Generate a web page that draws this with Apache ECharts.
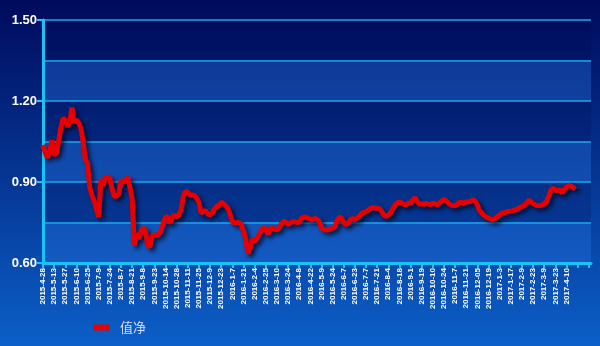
<!DOCTYPE html>
<html>
<head>
<meta charset="utf-8">
<script src="https://cdn.jsdelivr.net/npm/echarts@6/dist/echarts.min.js"></script>
<style>
html,body{margin:0;padding:0;}
#c{width:600px;height:346px;}
</style>
</head>
<body>
<div id="c"></div>
<script>
// tick label dates (one every 10 trading days); last two ticks have no label
var labelDates = ['2015-4-28','2015-5-13','2015-5-27','2015-6-10','2015-6-25','2015-7-9','2015-7-24','2015-8-7','2015-8-21','2015-9-8','2015-9-23','2015-10-14','2015-10-28','2015-11-11','2015-11-25','2015-12-9','2015-12-23','2016-1-7','2016-1-21','2016-2-4','2016-2-25','2016-3-10','2016-3-24','2016-4-8','2016-4-22','2016-5-9','2016-5-24','2016-6-7','2016-6-23','2016-7-7','2016-7-21','2016-8-4','2016-8-18','2016-9-1','2016-9-19','2016-10-10','2016-10-24','2016-11-7','2016-11-21','2016-12-05','2016-12-19','2017-1-3','2017-1-17','2017-2-9','2017-2-23','2017-3-9','2017-3-23','2017-4-10','',''];
var seriesName = '值净';
// net value, sampled every 2 trading days
var netValue = [
1.037,1.01,0.99,1.01,1.055,1.00,1.005,1.05,1.10,1.136,
1.13,1.105,1.123,1.175,1.12,1.13,1.12,1.10,1.05,0.985,
0.97,0.88,0.85,0.83,0.80,0.77,0.91,0.885,0.92,0.915,
0.914,0.875,0.846,0.848,0.855,0.905,0.90,0.905,0.918,0.883,
0.84,0.665,0.71,0.69,0.715,0.73,0.72,0.665,0.66,0.70,
0.704,0.704,0.705,0.72,0.747,0.77,0.77,0.747,0.77,0.776,
0.771,0.776,0.80,0.846,0.865,0.862,0.852,0.852,0.85,0.84,
0.825,0.785,0.79,0.795,0.78,0.78,0.785,0.80,0.81,0.812,
0.825,0.82,0.812,0.803,0.78,0.755,0.747,0.75,0.75,0.742,
0.72,0.69,0.635,0.655,0.688,0.68,0.69,0.705,0.72,0.73,
0.725,0.705,0.728,0.728,0.725,0.722,0.73,0.745,0.753,0.753,
0.742,0.748,0.753,0.753,0.75,0.75,0.765,0.77,0.77,0.766,
0.762,0.76,0.765,0.762,0.755,0.73,0.725,0.722,0.722,0.726,
0.73,0.734,0.755,0.77,0.766,0.75,0.742,0.747,0.76,0.765,
0.76,0.766,0.773,0.783,0.787,0.791,0.796,0.802,0.806,0.803,
0.803,0.802,0.791,0.778,0.772,0.777,0.785,0.80,0.814,0.822,
0.826,0.822,0.817,0.816,0.821,0.821,0.832,0.843,0.827,0.817,
0.82,0.817,0.82,0.818,0.816,0.822,0.819,0.815,0.822,0.83,
0.836,0.83,0.822,0.815,0.812,0.813,0.816,0.825,0.824,0.821,
0.826,0.827,0.828,0.834,0.83,0.815,0.795,0.785,0.776,0.77,
0.766,0.763,0.759,0.765,0.772,0.778,0.784,0.787,0.789,0.791,
0.792,0.794,0.797,0.80,0.805,0.809,0.812,0.822,0.832,0.828,
0.82,0.815,0.812,0.812,0.815,0.818,0.828,0.846,0.87,0.877,
0.87,0.866,0.872,0.858,0.872,0.88,0.889,0.885,0.88,0.873
];
var yMin = 0.6, yMax = 1.5;

var totalSlots = 247;
var categories = [];
for (var i = 0; i < totalSlots; i++) {
  var g = Math.floor(i / 5);
  categories.push(i % 5 === 0 ? labelDates[g] : (labelDates[g] + '#' + (i % 5)));
}
var values = [];
for (var j = 0; j < totalSlots; j++) values.push(j < netValue.length ? netValue[j] : null);

var cyan = '#19c3f5';
var chart = echarts.init(document.getElementById('c'), null, {renderer: 'canvas'});
chart.setOption({
  animation: false,
  backgroundColor: {
    type: 'linear', x: 0, y: 0, x2: 0, y2: 1,
    colorStops: [{offset: 0, color: '#000a5c'}, {offset: 1, color: '#0b5fc8'}]
  },
  grid: {left: 43, right: 9, top: 20, bottom: 83, containLabel: false},
  legend: {
    left: 88, top: 316,
    itemWidth: 17, itemHeight: 6,
    icon: 'roundRect',
    textStyle: {color: '#d8dcf0', fontSize: 13, fontFamily: 'Noto Sans CJK SC', padding: [0, 0, 0, 5]},
    data: [seriesName]
  },
  xAxis: {
    type: 'category',
    boundaryGap: false,
    data: categories,
    axisLine: {lineStyle: {color: cyan, width: 3}},
    axisTick: {interval: 4, length: 5, lineStyle: {color: cyan, width: 2}},
    axisLabel: {
      interval: 4, rotate: 90, color: '#ffffff', fontSize: 8, fontWeight: 'bold',
      fontFamily: 'Liberation Sans', margin: 5,
      formatter: function (v) { return v.indexOf('#') >= 0 ? '' : v; }
    },
    splitLine: {show: false}
  },
  yAxis: [{
    type: 'value', min: yMin, max: yMax, interval: 0.3,
    axisLine: {show: true, lineStyle: {color: cyan, width: 3}},
    axisTick: {show: true, length: 6, lineStyle: {color: cyan, width: 2}},
    axisLabel: {color: '#ffffff', fontSize: 13, fontWeight: 'bold', fontFamily: 'Liberation Sans', margin: 6,
      formatter: function (v) { return v.toFixed(2); }},
    splitLine: {show: false}
  }, {
    type: 'value', min: yMin, max: yMax, interval: 0.15, position: 'left',
    axisLine: {show: false}, axisTick: {show: false}, axisLabel: {show: false},
    splitLine: {show: true, lineStyle: {color: '#1aa8e8', width: 1.5}},
    splitArea: {show: true, areaStyle: {color: ['rgba(40,120,230,0.35)', 'rgba(0,0,60,0.15)']}}
  }],
  series: [{
    name: seriesName,
    type: 'line',
    yAxisIndex: 0,
    data: values,
    showSymbol: false,
    symbol: 'none',
    connectNulls: false,
    color: '#e60000',
    lineStyle: {color: '#e60000', width: 5, shadowColor: 'rgba(0,0,20,0.7)', shadowBlur: 4, shadowOffsetX: 3, shadowOffsetY: 3}
  }]
});
</script>
</body>
</html>
